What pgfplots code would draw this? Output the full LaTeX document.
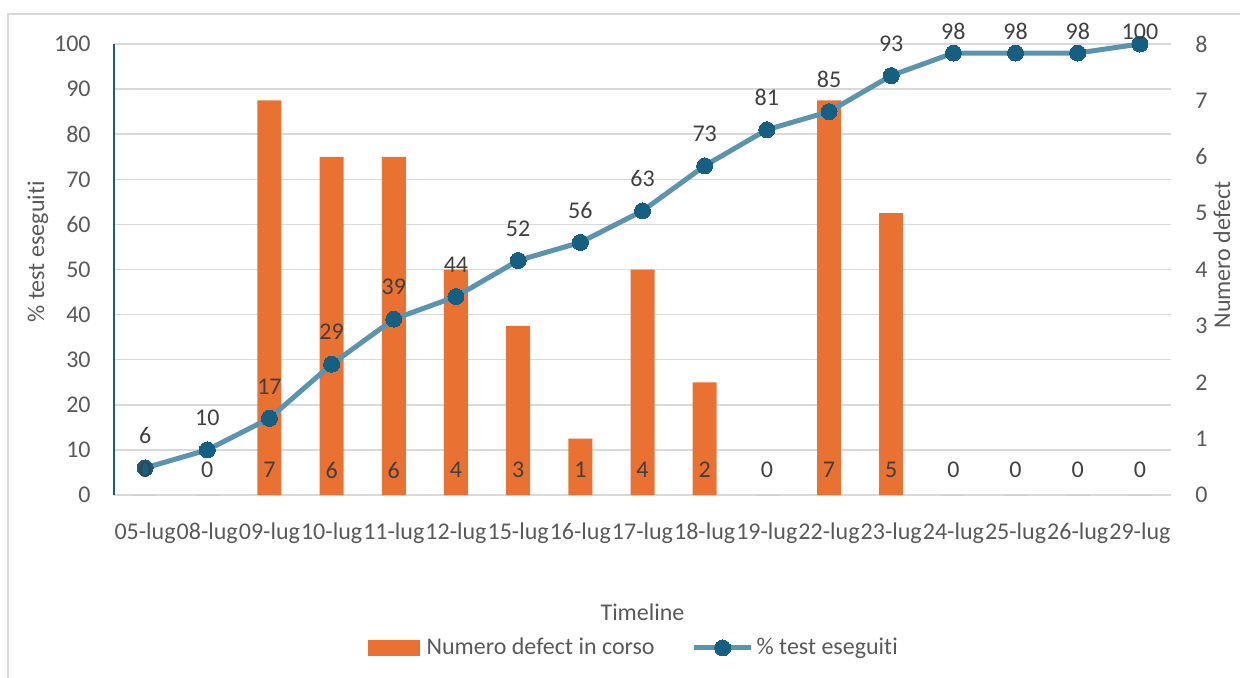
\documentclass[border=0pt]{standalone}
\usepackage{pgfplots}
\pgfplotsset{compat=1.18}
\usepackage{pgfplotstable}
\usepackage{fontspec}
\setmainfont{Carlito}[Ligatures=NoCommon]
\definecolor{txt}{HTML}{595959}
\definecolor{lbl}{HTML}{404040}
\definecolor{barc}{HTML}{E97132}
\definecolor{linec}{HTML}{5B94AE}
\definecolor{markc}{HTML}{156082}
\definecolor{gridc}{HTML}{D9D9D9}

\pgfplotsset{
  mylinelegend/.style={legend image code/.code={\draw[##1, mark repeat=2, mark phase=2] plot coordinates {(0pt,0pt) (14.25pt,0pt) (28.5pt,0pt)};}},
  mybarlegend/.style={legend image code/.code={\fill[barc] (0pt,-3.75pt) rectangle (25.5pt,3.75pt); \path[draw=none, fill=none] (0pt,0pt) -- (27.5pt,0pt);}},
}

\pgfplotstableread{
x d p
0 0 6
1 0 10
2 7 17
3 6 29
4 6 39
5 4 44
6 3 52
7 1 56
8 4 63
9 2 73
10 0 81
11 7 85
12 5 93
13 0 98
14 0 98
15 0 98
16 0 100
}\data

\begin{document}
\fontsize{12}{14}\selectfont
\begin{tikzpicture}
\useasboundingbox (0pt,0pt) rectangle (620pt,338.5pt);
\draw[gridc, line width=0.75pt] (4pt,-5pt) -- (4pt,331.5pt) -- (630pt,331.5pt);
\pgfplotsset{
  base/.style={scale only axis, width=528.5pt, height=225.5pt, at={(57pt,91pt)}, anchor=south west,
    xmin=-0.5, xmax=16.5, clip=false, major tick length=0pt,
    every tick label/.append style={font=\fontsize{12}{14}\selectfont, text=txt},
    /pgf/number format/assume math mode=true},
}
\begin{axis}[base, ymin=0, ymax=100, ytick={0,10,...,100}, ymajorgrids,
  grid style={gridc, line width=0.75pt},
  axis x line*=bottom, axis y line*=left,
  x axis line style={gridc, line width=0.75pt, -},
  y axis line style={markc, line width=0.75pt, -},
  xtick={0,...,16},
  xticklabels={05-lug,08-lug,09-lug,10-lug,11-lug,12-lug,15-lug,16-lug,17-lug,18-lug,19-lug,22-lug,23-lug,24-lug,25-lug,26-lug,29-lug},
  x tick label style={anchor=center, yshift=-19pt, inner sep=0pt},
  y tick label style={anchor=east, xshift=-11.5pt, inner sep=0pt},
  xlabel={Timeline},
  xlabel style={at={(axis description cs:0.5,-0.259)}, anchor=center, text=txt, font=\fontsize{12}{14}\selectfont},
  ylabel={\% test eseguiti},
  ylabel style={at={(axis description cs:-0.0719,0.539)}, anchor=center, text=txt, font=\fontsize{12}{14}\selectfont}]
\addplot[draw=none] coordinates {(0,0)};
\end{axis}
\begin{axis}[base, ymin=0, ymax=8, ytick={0,...,8}, axis y line*=right, axis x line=none,
  y axis line style={draw=none}, xtick=\empty,
  y tick label style={anchor=west, xshift=12pt, inner sep=0pt},
  ylabel={Numero defect},
  ylabel style={at={(axis description cs:1.048,0.532)}, anchor=center, text=txt, font=\fontsize{12}{14}\selectfont}]
\addplot[ybar, bar width=12pt, fill=barc, draw=none] table[x=x,y=d]{\data};
\end{axis}
\begin{axis}[base, ymin=0, ymax=100, hide axis,
  legend style={at={(axis description cs:0.4924,-0.339)}, anchor=center, draw=none, fill=none,
    font=\fontsize{12}{14}\selectfont, text=txt, nodes={inner sep=1.5pt},
    /tikz/every even column/.append style={column sep=17pt}},
  legend columns=2, legend cell align=left]
\addlegendimage{mybarlegend}
\addlegendentry{Numero defect in corso}
\addplot[linec, line width=2.5pt, line join=round, mark=*, mark size=4pt,
  mark options={fill=markc, draw=markc, line width=0pt},
  nodes near coords,
  visualization depends on={min(7.1,102.7-\thisrow{p})*2.255 \as \lshift},
  every node near coord/.append style={anchor=center, yshift=\lshift pt, text=lbl, font=\fontsize{12}{14}\selectfont},
  mylinelegend]
  table[x=x,y=p]{\data};
\addlegendentry{\% test eseguiti}
% labels of the bars (drawn on top, at the base of each bar)
\addplot[draw=none, mark=none, forget plot, nodes near coords, point meta=explicit,
  every node near coord/.append style={anchor=center, yshift=12.5pt, text=lbl, font=\fontsize{12}{14}\selectfont}]
  table[x=x, y expr=0, meta=d]{\data};
\end{axis}
\end{tikzpicture}
\end{document}
